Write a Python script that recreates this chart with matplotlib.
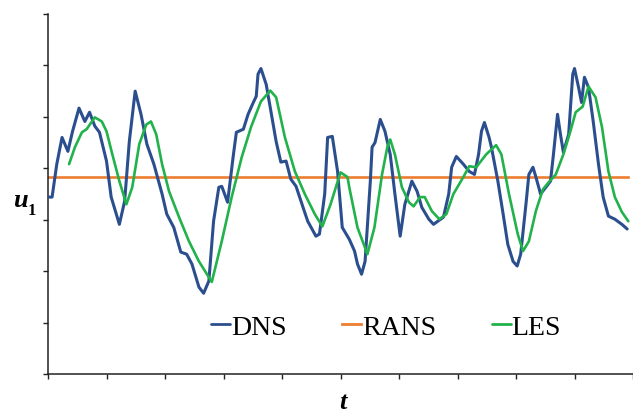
import matplotlib
matplotlib.use("Agg")
import matplotlib.pyplot as plt

# ---- data ----
dns_t = [0.00, 0.07, 0.15, 0.24, 0.34, 0.42, 0.53, 0.63, 0.71, 0.80, 0.88, 1.00, 1.08, 1.22,
         1.31, 1.39, 1.49, 1.59, 1.69, 1.81, 1.95, 2.03, 2.15, 2.27, 2.37, 2.46, 2.58, 2.66,
         2.75, 2.83, 2.92, 2.97, 3.07, 3.17, 3.22, 3.34, 3.42, 3.51, 3.56, 3.59, 3.64, 3.73,
         3.81, 3.90, 3.98, 4.07, 4.15, 4.24, 4.36, 4.44, 4.58, 4.64, 4.73, 4.78, 4.86, 4.95,
         5.03, 5.15, 5.24, 5.29, 5.36, 5.42, 5.51, 5.54, 5.59, 5.68, 5.76, 5.85, 5.93, 6.02,
         6.10, 6.22, 6.31, 6.39, 6.51, 6.59, 6.76, 6.85, 6.90, 6.98, 7.10, 7.20, 7.29, 7.36,
         7.41, 7.46, 7.54, 7.58, 7.69, 7.78, 7.86, 7.95, 8.02, 8.08, 8.17, 8.22, 8.29, 8.34,
         8.42, 8.51, 8.59, 8.64, 8.71, 8.76, 8.81, 8.90, 8.97, 9.00, 9.07, 9.12, 9.17, 9.24,
         9.32, 9.41, 9.49, 9.58, 9.69, 9.81, 9.90]
dns_u = [3.44, 3.44, 4.08, 4.60, 4.33, 4.72, 5.17, 4.91, 5.09, 4.82, 4.70, 4.14, 3.44, 2.91,
         3.36, 4.52, 5.50, 5.05, 4.47, 4.08, 3.50, 3.11, 2.85, 2.37, 2.33, 2.14, 1.69, 1.57,
         1.81, 2.97, 3.63, 3.65, 3.34, 4.27, 4.70, 4.76, 5.05, 5.28, 5.40, 5.83, 5.94, 5.63,
         5.11, 4.52, 4.12, 4.14, 3.79, 3.65, 3.24, 2.97, 2.68, 2.72, 3.50, 4.60, 4.62, 3.94,
         2.85, 2.62, 2.39, 2.14, 1.94, 2.19, 3.75, 4.41, 4.50, 4.95, 4.72, 4.27, 3.50, 2.68,
         3.30, 3.75, 3.55, 3.24, 3.01, 2.91, 3.05, 3.50, 4.02, 4.23, 4.08, 3.94, 3.88, 4.27,
         4.72, 4.89, 4.60, 4.41, 3.75, 3.11, 2.52, 2.19, 2.10, 2.33, 3.30, 3.88, 4.02, 3.83,
         3.50, 3.63, 3.75, 4.27, 5.05, 4.66, 4.31, 4.66, 5.83, 5.94, 5.57, 5.28, 5.77, 5.57,
         4.91, 4.08, 3.44, 3.07, 3.01, 2.91, 2.82]

les_t = [0.36, 0.46, 0.58, 0.66, 0.80, 0.92, 1.00, 1.10, 1.22, 1.34, 1.44, 1.56, 1.68, 1.76,
         1.85, 1.95, 2.07, 2.24, 2.41, 2.58, 2.80, 2.97, 3.14, 3.31, 3.47, 3.64, 3.80, 3.90,
         4.05, 4.22, 4.39, 4.56, 4.69, 4.83, 5.00, 5.12, 5.15, 5.29, 5.46, 5.58, 5.71, 5.80,
         5.85, 5.93, 6.05, 6.17, 6.25, 6.36, 6.44, 6.56, 6.69, 6.81, 6.93, 7.10, 7.20, 7.32,
         7.49, 7.66, 7.75, 7.88, 8.03, 8.12, 8.22, 8.34, 8.46, 8.56, 8.68, 8.81, 8.93, 9.02,
         9.14, 9.24, 9.36, 9.47, 9.58, 9.69, 9.81, 9.92]
les_u = [4.08, 4.41, 4.70, 4.76, 4.99, 4.91, 4.72, 4.27, 3.75, 3.30, 3.63, 4.47, 4.85, 4.91,
         4.66, 4.08, 3.55, 3.05, 2.58, 2.19, 1.79, 2.58, 3.44, 4.21, 4.80, 5.30, 5.51, 5.38,
         4.60, 3.94, 3.50, 3.11, 2.87, 3.30, 3.92, 3.83, 3.63, 2.85, 2.33, 2.85, 3.88, 4.41,
         4.56, 4.27, 3.63, 3.34, 3.26, 3.44, 3.44, 3.17, 3.01, 3.11, 3.50, 3.83, 4.04, 4.02,
         4.27, 4.45, 4.27, 3.50, 2.72, 2.39, 2.58, 3.17, 3.59, 3.73, 3.88, 4.27, 4.72, 5.09,
         5.20, 5.59, 5.38, 4.80, 3.94, 3.44, 3.15, 2.97]

rans_u = 3.83
t_range = [0.0, 9.92]
series_names = ["DNS", "RANS", "LES"]

# ---- styling ----
c_dns, c_rans, c_les = "#2B4F8E", "#ED7D31", "#22B24C"

fig = plt.figure(figsize=(6.33, 4.14), dpi=100)
ax = fig.add_axes([48 / 633, 39 / 414, 585 / 633, 360 / 414])

ax.plot(dns_t, dns_u, color=c_dns, lw=2.2, solid_joinstyle="round", solid_capstyle="round",
        label=series_names[0], zorder=3)
ax.plot(t_range, [rans_u, rans_u], color=c_rans, lw=1.9, label=series_names[1], zorder=2)
ax.plot(les_t, les_u, color=c_les, lw=1.9, solid_joinstyle="round", solid_capstyle="round",
        label=series_names[2], zorder=4)

ax.set_xlim(t_range)
ax.set_ylim(0, 7)
ax.set_xticks(range(0, 11))
ax.set_yticks(range(0, 8))
ax.set_xticklabels([])
ax.set_yticklabels([])
ax.tick_params(axis="both", direction="out", length=3.5, width=1.0, color="#222222")
for s in ["top", "right"]:
    ax.spines[s].set_visible(False)
for s in ["left", "bottom"]:
    ax.spines[s].set_linewidth(1.1)
    ax.spines[s].set_color("#222222")

serif = ["Liberation Serif", "DejaVu Serif"]
leg = ax.legend(loc="center", bbox_to_anchor=((386 - 48) / 585, (375 - 328) / 360),
                ncol=3, frameon=False, prop={"family": serif, "size": 20},
                handlelength=0.7, handletextpad=0.02, columnspacing=2.0, borderpad=0)
for h in leg.get_lines():
    h.set_linewidth(2.0)

fig.text(13 / 633, (414 - 207) / 414, "u", family=serif, fontsize=19,
         fontweight="bold", fontstyle="italic", ha="left", va="baseline")
fig.text(28 / 633, (414 - 215) / 414, "1", family=serif, fontsize=12,
         fontweight="bold", ha="left", va="baseline")
fig.text(343 / 633, (414 - 409) / 414, "t", family=serif, fontsize=19,
         fontweight="bold", fontstyle="italic", ha="center", va="baseline")

fig.savefig("out.png", dpi=100)
